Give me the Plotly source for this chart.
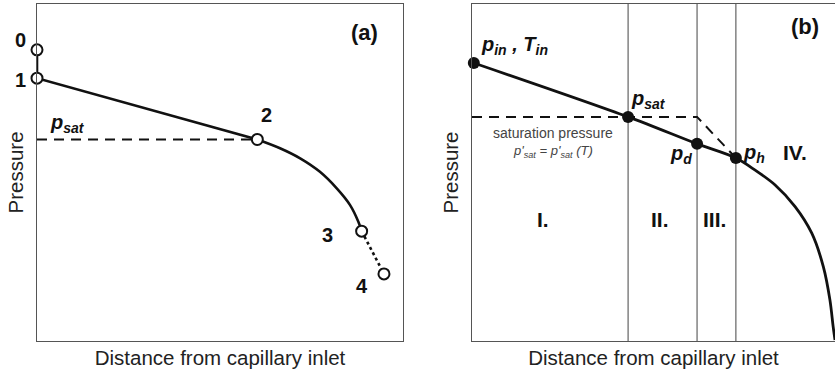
import plotly.graph_objects as go

# ---------------- data (abstract units, 0..100) ----------------
# Panel (a): state points 0..4
a_pt_labels = ["0", "1", "2", "3", "4"]
a_pt_x = [0.0, 0.0, 60.2, 88.7, 94.8]
a_pt_y = [86.4, 78.0, 59.8, 32.6, 19.9]
# Panel (a): curved two-phase part between 2 and 3
a_curve_x = [60.2, 66.4, 71.9, 77.3, 81.9, 85.5, 87.8, 88.7]
a_curve_y = [59.8, 57.2, 54.2, 50.2, 45.3, 40.4, 35.4, 32.6]
a_psat = 59.8

# Panel (b): characteristic points
b_pt_names = ["p_in", "p_sat", "p_d", "p_h"]
b_pt_x = [0.5, 43.0, 62.0, 72.7]
b_pt_y = [82.5, 66.5, 58.5, 54.3]
# Panel (b): pressure curve after p_h
b_tail_x = [72.7, 78.0, 83.5, 89.0, 93.6, 96.8, 98.6, 99.5, 100.0]
b_tail_y = [54.3, 50.7, 46.3, 39.9, 32.0, 22.0, 12.2, 4.2, 0.3]
b_psat = 66.5
b_zone_bounds = [43.0, 62.0, 72.7]
b_zone_labels = ["I.", "II.", "III.", "IV."]

FONT = "Liberation Sans, Arial, sans-serif"
INK = "#111111"
FRAME = "#555555"

fig = go.Figure()

# ---------------- panel (a) ----------------
fig.add_trace(go.Scatter(x=[0, a_pt_x[2]], y=[a_psat, a_psat], mode="lines",
                         line=dict(color=INK, width=2, dash="10px,7px"),
                         xaxis="x", yaxis="y", cliponaxis=False, hoverinfo="skip"))
fig.add_trace(go.Scatter(x=a_pt_x[0:2], y=a_pt_y[0:2], mode="lines",
                         line=dict(color=INK, width=2.6),
                         xaxis="x", yaxis="y", cliponaxis=False))
fig.add_trace(go.Scatter(x=a_pt_x[1:3], y=a_pt_y[1:3], mode="lines",
                         line=dict(color=INK, width=2.6),
                         xaxis="x", yaxis="y", cliponaxis=False))
fig.add_trace(go.Scatter(x=a_curve_x, y=a_curve_y, mode="lines",
                         line=dict(color=INK, width=2.6, shape="spline"),
                         xaxis="x", yaxis="y", cliponaxis=False))
fig.add_trace(go.Scatter(x=a_pt_x[3:5], y=a_pt_y[3:5], mode="lines",
                         line=dict(color=INK, width=2.6, dash="3px,3px"),
                         xaxis="x", yaxis="y", cliponaxis=False))
fig.add_trace(go.Scatter(x=a_pt_x, y=a_pt_y, mode="markers",
                         marker=dict(size=11, color="white", line=dict(color=INK, width=2)),
                         xaxis="x", yaxis="y", cliponaxis=False))

# ---------------- panel (b) ----------------
for xv in b_zone_bounds:
    fig.add_trace(go.Scatter(x=[xv, xv], y=[0, 100], mode="lines",
                             line=dict(color="#444444", width=1),
                             xaxis="x2", yaxis="y2", hoverinfo="skip"))
fig.add_trace(go.Scatter(x=[0, b_zone_bounds[1], b_pt_x[3]], y=[b_psat, b_psat, b_pt_y[3]],
                         mode="lines", line=dict(color=INK, width=2, dash="10px,7px"),
                         xaxis="x2", yaxis="y2", hoverinfo="skip"))
fig.add_trace(go.Scatter(x=b_pt_x + b_tail_x[1:], y=b_pt_y + b_tail_y[1:], mode="lines",
                         line=dict(color=INK, width=2.8, shape="spline", smoothing=0.9),
                         xaxis="x2", yaxis="y2"))
fig.add_trace(go.Scatter(x=b_pt_x, y=b_pt_y, mode="markers",
                         marker=dict(size=12, color=INK),
                         xaxis="x2", yaxis="y2", cliponaxis=False))

# ---------------- layout ----------------
W, H = 835, 373
def px_x(p):
    return p / W
def px_y(p):
    return (H - p) / H

axis_common = dict(showgrid=False, zeroline=False, showticklabels=False, ticks="",
                   showline=True, linecolor=FRAME, linewidth=1.3, range=[0, 100], fixedrange=True)

fig.update_layout(
    width=W, height=H,
    margin=dict(l=0, r=0, t=0, b=0),
    paper_bgcolor="white", plot_bgcolor="white",
    showlegend=False,
    font=dict(family=FONT, color=INK),
    xaxis=dict(domain=[px_x(37), px_x(403)], mirror=True, **axis_common,
               title=dict(text="Distance from capillary inlet", standoff=9,
                          font=dict(size=20.5, color="#222222"))),
    yaxis=dict(domain=[px_y(341), px_y(4)], mirror=True, **axis_common,
               title=dict(text="Pressure", standoff=6, font=dict(size=20.5, color="#222222"))),
    xaxis2=dict(domain=[px_x(472), 1.0], mirror=True, anchor="y2", **axis_common,
                title=dict(text="Distance from capillary inlet", standoff=9,
                           font=dict(size=20.5, color="#222222"))),
    yaxis2=dict(domain=[px_y(341), px_y(4)], mirror=False, anchor="x2", **axis_common,
                title=dict(text="Pressure", standoff=6, font=dict(size=20.5, color="#222222"))),
)

def ann(x, y, text, size, ref="", color=INK, paper=False):
    fig.add_annotation(x=x, y=y,
                       xref="paper" if paper else "x" + ref,
                       yref="paper" if paper else "y" + ref,
                       text=text, showarrow=False,
                       xanchor="center", yanchor="middle",
                       font=dict(size=size, color=color, family=FONT))

# panel (a) labels ("0" and "1" sit left of the axis -> paper coordinates)
ann(px_x(20), px_y(40), "<b>" + a_pt_labels[0] + "</b>", 20, paper=True)
ann(px_x(20), px_y(80), "<b>" + a_pt_labels[1] + "</b>", 20, paper=True)
a_label_pos = [(62.8, 67.1), (79.5, 31.5), (88.8, 16.3)]
for lab, (lx, ly) in zip(a_pt_labels[2:], a_label_pos):
    ann(lx, ly, "<b>" + lab + "</b>", 20)
ann(89.6, 91.4, "<b>(a)</b>", 22)
ann(8.2, 64.6, "<b><i>p</i></b><sub><b><i>sat</i></b></sub>", 20)

# panel (b) labels
ann(11.6, 87.8, "<b><i>p</i></b><sub><b><i>in</i></b></sub><b><i> , T</i></b><sub><b><i>in</i></b></sub>", 20, ref="2")
ann(48.5, 71.6, "<b><i>p</i></b><sub><b><i>sat</i></b></sub>", 20, ref="2")
ann(22.3, 61.7, "saturation pressure", 14, ref="2", color="#444444")
ann(22.3, 56.2, "<i>p'</i><sub><i>sat</i></sub><i> = p'</i><sub><i>sat</i></sub><i> (T)</i>", 13, ref="2", color="#444444")
ann(57.6, 55.3, "<b><i>p</i></b><sub><b><i>d</i></b></sub>", 20, ref="2")
ann(77.6, 55.5, "<b><i>p</i></b><sub><b><i>h</i></b></sub>", 20, ref="2")
zone_label_x = [19.6, 51.8, 66.9, 89.0]
zone_label_y = [36.2, 36.2, 36.2, 55.8]
for lab, zx, zy in zip(b_zone_labels, zone_label_x, zone_label_y):
    ann(zx, zy, "<b>" + lab + "</b>", 21, ref="2")
ann(91.7, 93.2, "<b>(b)</b>", 22, ref="2")

fig.write_html("out.html", config={"displayModeBar": False},
               post_script="document.body.style.margin='0px';")
